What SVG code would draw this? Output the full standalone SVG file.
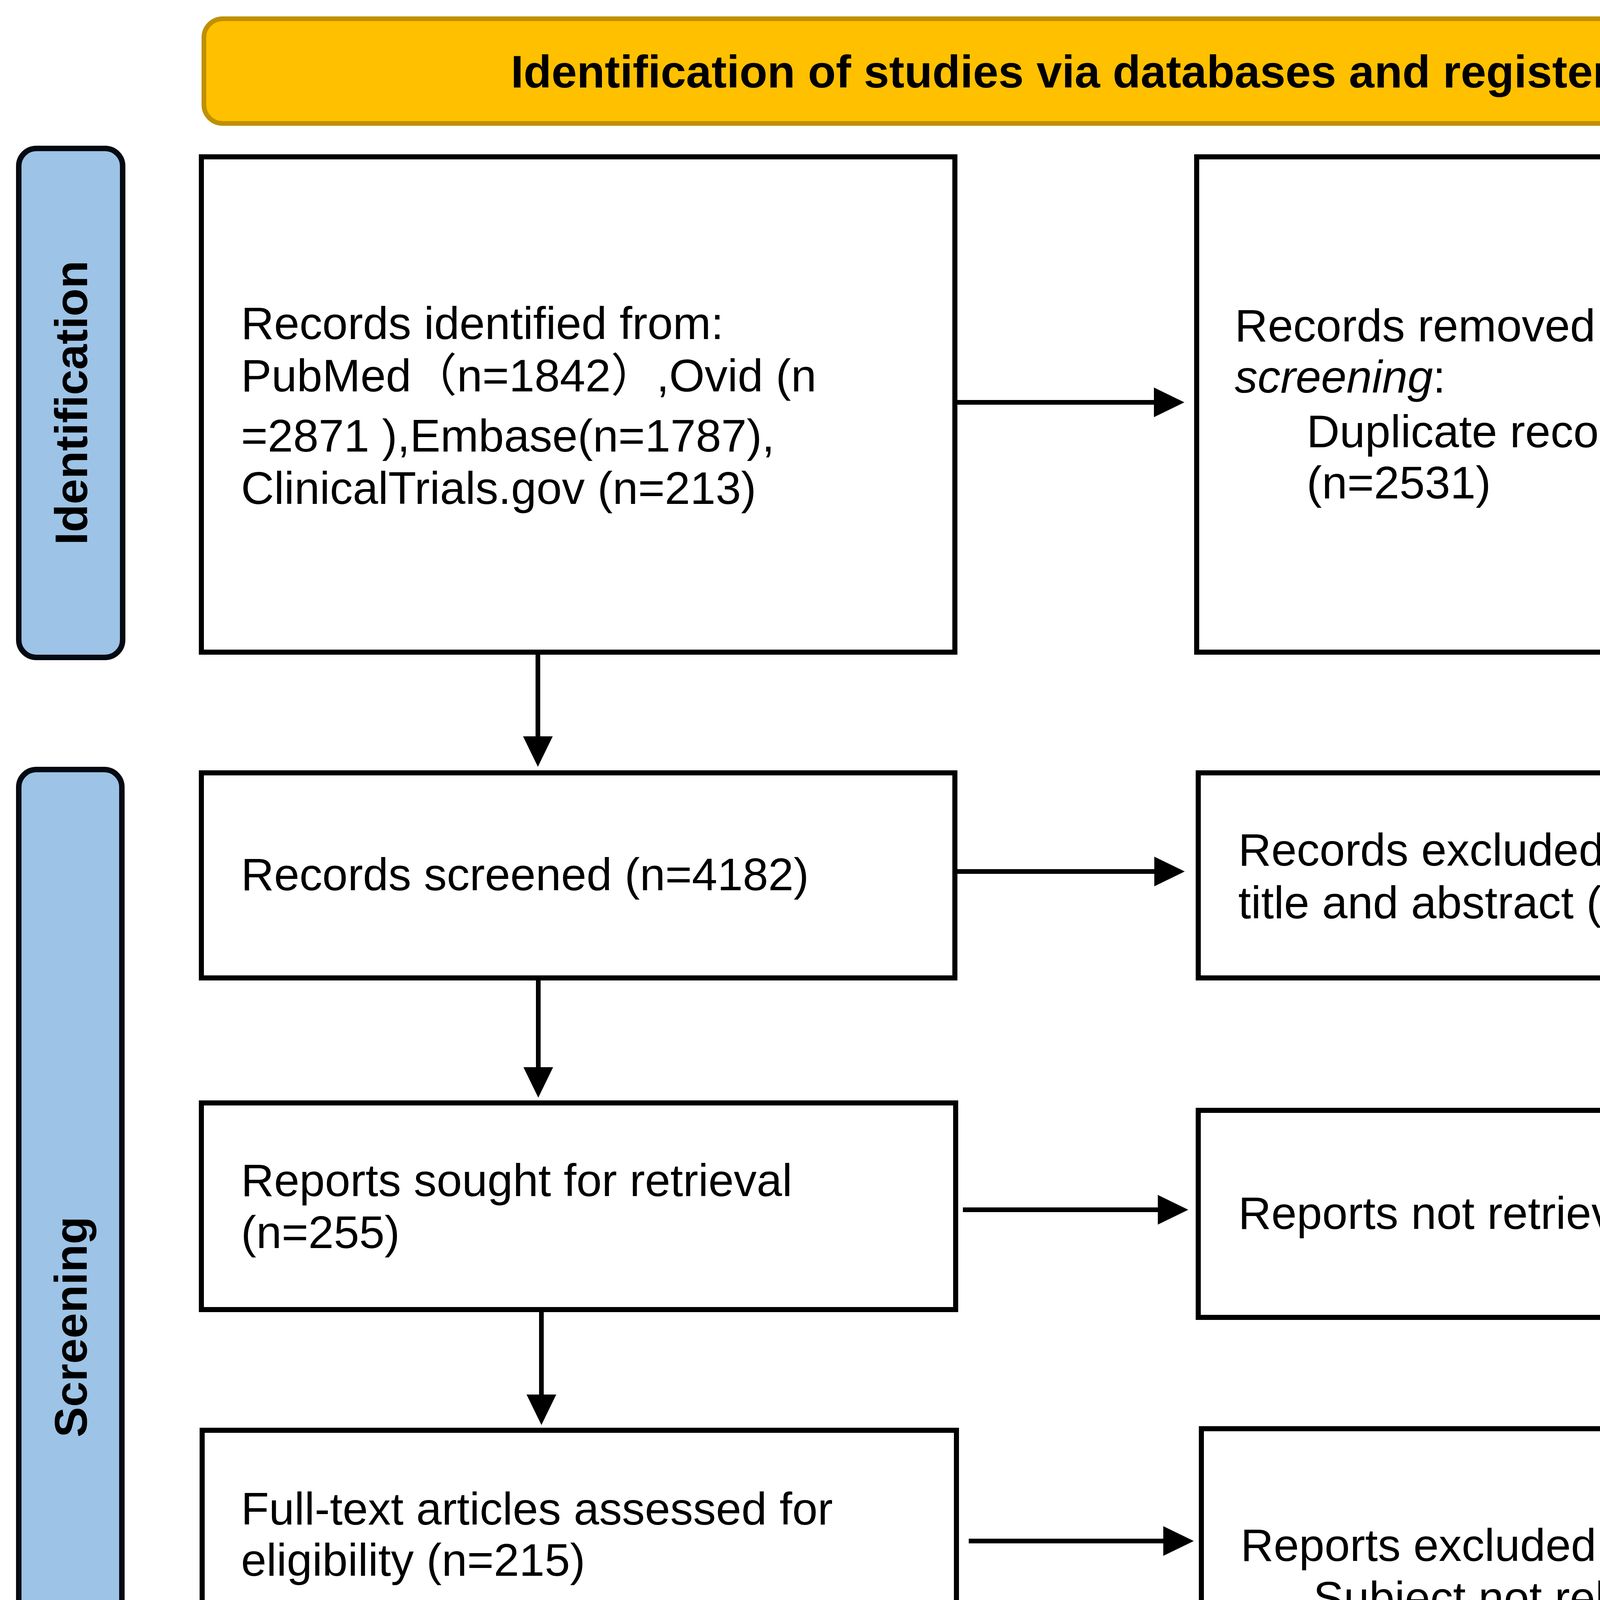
<svg xmlns="http://www.w3.org/2000/svg" width="6548" height="5772" viewBox="0 0 6548 5772">
<style>
.box{fill:#fff;stroke:#000;stroke-width:13}
.side{fill:#9DC3E6;stroke:#050a12;stroke-width:14}
.t{font-family:"Liberation Sans",Arial,"Noto Sans CJK SC",sans-serif;font-size:117px;fill:#000}
.b{font-weight:bold}
.conn line{stroke:#000;stroke-width:12;fill:none;marker-end:url(#ah)}
</style>
<defs>
<marker id="ah" markerUnits="userSpaceOnUse" viewBox="0 0 78 76" markerWidth="78" markerHeight="76" refX="2" refY="38" orient="auto">
<path d="M0,0 L78,38 L0,76 Z" fill="#000"/>
</marker>
</defs>
<rect width="6548" height="5772" fill="#fff"/>
<g id="banner">
<rect x="522" y="48" width="4453" height="268" rx="48" fill="#FFC000" stroke="#BF9000" stroke-width="12"/>
<text class="t b" x="2748" y="224" text-anchor="middle">Identification of studies via databases and registers</text>
</g>
<g id="side-identification">
<rect class="side" x="48" y="380" width="266" height="1303" rx="45"/>
<text class="t b" transform="translate(223,1031) rotate(-90)" text-anchor="middle">Identification</text>
</g>
<g id="side-screening">
<rect class="side" x="48" y="1970" width="264" height="2855" rx="45"/>
<text class="t b" transform="translate(222,3397) rotate(-90)" text-anchor="middle">Screening</text>
</g>
<g id="side-included">
<rect class="side" x="62" y="4962" width="268" height="779" rx="45"/>
<text class="t b" transform="translate(238,5351) rotate(-90)" text-anchor="middle">Included</text>
</g>
<g id="identified">
<rect class="box" x="515.5" y="401.5" width="1929" height="1268"/>
<text class="t" x="617" y="868">Records identified from:</text>
<text class="t" x="617" y="1002">PubMed（n=1842）,Ovid (n</text>
<text class="t" x="617" y="1156">=2871 ),Embase(n=1787),</text>
<text class="t" x="617" y="1290">ClinicalTrials.gov (n=213)</text>
</g>
<g id="removed">
<rect class="box" x="3063.5" y="401.5" width="1928" height="1268"/>
<text class="t" x="3161" y="874">Records removed <tspan font-style="italic">before</tspan></text>
<text class="t" x="3161" y="1005"><tspan font-style="italic">screening</tspan>:</text>
<text class="t" x="3345" y="1145">Duplicate records removed</text>
<text class="t" x="3345" y="1276">(n=2531)</text>
</g>
<g id="screened">
<rect class="box" x="515.5" y="1978.5" width="1929" height="525"/>
<text class="t" x="617" y="2279">Records screened (n=4182)</text>
</g>
<g id="excluded-title">
<rect class="box" x="3067.5" y="1978.5" width="1928" height="525"/>
<text class="t" x="3170" y="2216">Records excluded by scanning</text>
<text class="t" x="3170" y="2351">title and abstract (n=3927)</text>
</g>
<g id="sought">
<rect class="box" x="515.5" y="2823.5" width="1931" height="529"/>
<text class="t" x="617" y="3062">Reports sought for retrieval</text>
<text class="t" x="617" y="3195">(n=255)</text>
</g>
<g id="not-retrieved">
<rect class="box" x="3067.5" y="2842.5" width="1928" height="530"/>
<text class="t" x="3170" y="3146">Reports not retrieved (n=40)</text>
</g>
<g id="fulltext">
<rect class="box" x="517.5" y="3661.5" width="1931" height="530"/>
<text class="t" x="617" y="3903">Full-text articles assessed for</text>
<text class="t" x="617" y="4034">eligibility (n=215)</text>
</g>
<g id="reports-excluded">
<rect class="box" x="3075.5" y="3657.5" width="3435" height="1543"/>
<text class="t" x="3176" y="3996">Reports excluded:</text>
<text class="t" x="3362" y="4131">Subject not relevant (n=37)</text>
<text class="t" x="3362" y="4266">Intervention was not Alirocumab or Evolocumab (n=54)</text>
<text class="t" x="3362" y="4401">Participants included children (n=5)</text>
<text class="t" x="3362" y="4536">Comments or case reports (n=6)</text>
<text class="t" x="3362" y="4670">Review articles (n=38)</text>
<text class="t" x="3362" y="4805">Did not report adverse cardiovascular events (n=19)</text>
<text class="t" x="3362" y="4940">Outcomes did not report (n=16)</text>
</g>
<g id="included">
<rect class="box" x="499.5" y="4984.5" width="2339" height="731"/>
<text class="t" x="597" y="5324">40 studies (contained 41 RCTs) included</text>
<text class="t" x="597" y="5457">in quantitative synthesis (meta-analysis)</text>
</g>
<g id="connectors" class="conn">
<line x1="2451" y1="1030" x2="2956" y2="1030"/>
<line x1="1377" y1="1676" x2="1377" y2="1887"/>
<line x1="2451" y1="2231" x2="2957" y2="2231"/>
<line x1="1378" y1="2510" x2="1378" y2="2734"/>
<line x1="2465" y1="3097" x2="2966" y2="3097"/>
<line x1="1386" y1="3359" x2="1386" y2="3572"/>
<line x1="2480" y1="3945" x2="2980" y2="3945"/>
<line x1="1378" y1="4198" x2="1378" y2="4885"/>
</g>
</svg>
